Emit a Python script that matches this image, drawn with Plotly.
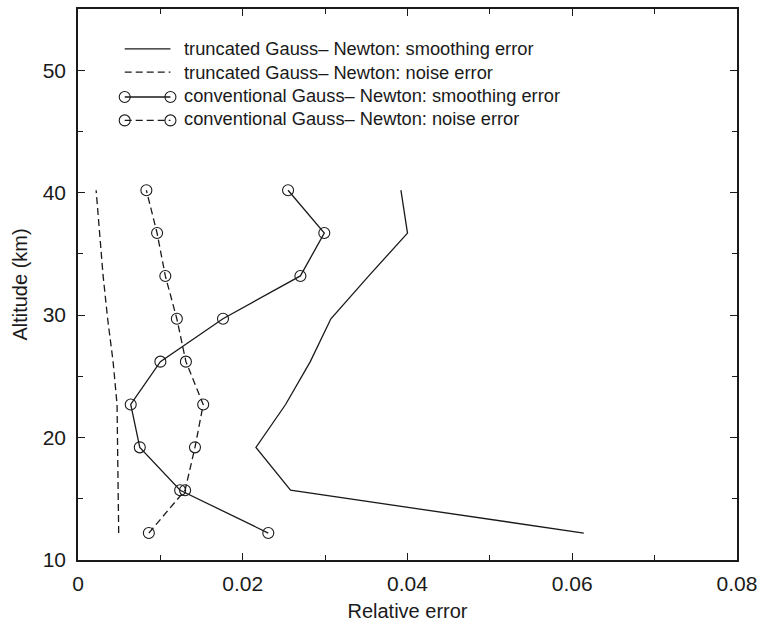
import plotly.graph_objects as go

altitude = [12.2, 15.7, 19.2, 22.7, 26.2, 29.7, 33.2, 36.7, 40.2]
trunc_smooth = [0.0614, 0.0258, 0.0216, 0.0252, 0.0282, 0.0307, 0.0353, 0.0400, 0.0392]
trunc_noise = [0.00494, 0.0049, 0.00486, 0.00474, 0.00426, 0.0036, 0.00305, 0.00265, 0.0022]
conv_smooth = [0.0231, 0.0124, 0.0075, 0.0064, 0.0100, 0.0176, 0.0270, 0.0299, 0.0255]
conv_noise = [0.0086, 0.0130, 0.0142, 0.0152, 0.0131, 0.0120, 0.0106, 0.0096, 0.0083]

legend_labels = [
    "truncated Gauss\u2013 Newton: smoothing error",
    "truncated Gauss\u2013 Newton: noise error",
    "conventional Gauss\u2013 Newton: smoothing error",
    "conventional Gauss\u2013 Newton: noise error",
]

INK = "#1a1a1a"
FONT = "Liberation Sans, Arial, Helvetica, sans-serif"
DASH = "7px,4px"
LW = 1.3
MSIZE = 11

styles = [
    dict(dash="solid", markers=False),
    dict(dash=DASH, markers=False),
    dict(dash="solid", markers=True),
    dict(dash=DASH, markers=True),
]
series = [trunc_smooth, trunc_noise, conv_smooth, conv_noise]

fig = go.Figure()
for vals, st, name in zip(series, styles, legend_labels):
    fig.add_trace(go.Scatter(
        x=vals, y=altitude, name=name, showlegend=False,
        mode="lines+markers" if st["markers"] else "lines",
        line=dict(color=INK, width=LW, dash=st["dash"]),
        marker=dict(symbol="circle-open", size=MSIZE, color=INK, line=dict(width=1.1, color=INK)),
        xaxis="x", yaxis="y",
    ))

# custom legend drawn on an overlay axis in pixel units of the plot area
L, R, T, B = 78, 741, 7, 561
row_y = [47, 70.5, 94, 117.5]
x0s, x1s = 125, 171
for ry, st, name in zip(row_y, styles, legend_labels):
    fig.add_trace(go.Scatter(
        x=[x0s, x1s], y=[ry if not st["markers"] else ry + 1.5] * 2,
        mode="lines+markers" if st["markers"] else "lines",
        line=dict(color=INK, width=LW, dash=st["dash"]),
        marker=dict(symbol="circle-open", size=MSIZE, color=INK, line=dict(width=1.1, color=INK)),
        showlegend=False, hoverinfo="skip", xaxis="x2", yaxis="y2",
    ))
    fig.add_annotation(x=183, y=ry, xref="x2", yref="y2", text=name, showarrow=False,
                       xanchor="left", yanchor="middle", font=dict(family=FONT, size=18.3, color=INK))

axis_common = dict(
    showline=True, linecolor=INK, linewidth=1.5, mirror="ticks",
    ticks="inside", ticklen=7, tickwidth=1.2, tickcolor=INK,
    showgrid=False, zeroline=False,
    tickfont=dict(family=FONT, size=21, color=INK),
)
fig.update_layout(
    width=764, height=626,
    margin=dict(l=L, r=764 - R, t=T, b=626 - B),
    paper_bgcolor="white", plot_bgcolor="white",
    xaxis=dict(range=[0, 0.08], tickvals=[0, 0.02, 0.04, 0.06, 0.08],
               ticktext=["0", "0.02", "0.04", "0.06", "0.08"],
               minor=dict(ticks="inside", ticklen=5, tickwidth=1.2, tickcolor=INK, dtick=0.01, tick0=0),
               title=dict(text="Relative error", font=dict(family=FONT, size=20, color=INK), standoff=10),
               ticklabelstandoff=4,
               **axis_common),
    yaxis=dict(range=[10, 55], tickvals=[10, 20, 30, 40, 50],
               minor=dict(ticks="inside", ticklen=5, tickwidth=1.2, tickcolor=INK, dtick=5, tick0=0),
               title=dict(text="Altitude (km)", font=dict(family=FONT, size=20, color=INK), standoff=10),
               ticklabelstandoff=6,
               **axis_common),
    xaxis2=dict(range=[L, R], overlaying="x", visible=False, fixedrange=True),
    yaxis2=dict(range=[B, T], overlaying="y", visible=False, fixedrange=True),
    showlegend=False,
)

fig.write_html("out.html", config={"displayModeBar": False},
               post_script="document.body.style.margin='0';document.body.style.overflow='hidden';")
